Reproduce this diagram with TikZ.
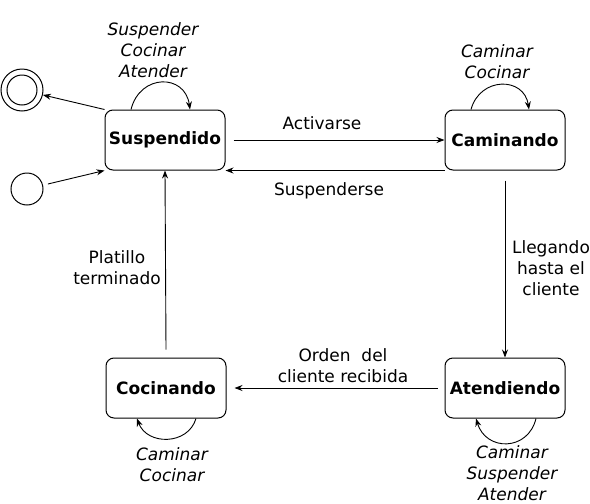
\documentclass[tikz,border=0pt]{standalone}
\usepackage{fontspec}
\setmainfont{DejaVu Sans}
\usepackage{tikz}
\usetikzlibrary{positioning, arrows.meta}

\begin{document}
\begin{tikzpicture}[x=1pt, y=1pt, >={Stealth[length=8pt, width=6pt]},
    state/.style={draw, rounded corners=8pt, minimum height=60pt, minimum width=120pt, align=center, font=\fontsize{17}{21}\selectfont\bfseries, line width=1pt},
    arrow/.style={->, line width=0.9pt},
    trans/.style={align=center, font=\fontsize{17}{21}\selectfont},
    cmd/.style={align=center, font=\fontsize{17}{21}\selectfont\itshape}]
    \useasboundingbox (0,0) rectangle (590,-504);
    \node[state] (susp) at (165,-140) {Suspendido};
    \node[state, right=219pt of susp] (cam) {Caminando};
    \node[state, below=187pt of cam] (aten) {Atendiendo};
    \node[state, left=218pt of aten] (coc) {Cocinando};
    \node[draw, circle, minimum size=42pt, inner sep=0pt, line width=1pt] (fin) at (22,-90) {};
    \node[draw, circle, minimum size=30pt, inner sep=0pt, line width=1pt] (finin) at (fin) {};
    \node[draw, circle, minimum size=32pt, inner sep=0pt, line width=1pt] (ini) at (27,-189) {};
    % transiciones
    \draw[arrow] ([xshift=8pt]susp.east) -- (cam.west);
    \draw[arrow] (cam.south west) -- (susp.south east);
    \draw[arrow] ([yshift=-10pt]cam.south) -- (aten.north);
    \draw[arrow] ([xshift=-7pt]aten.west) -- ([xshift=8pt]coc.east);
    \draw[arrow] ([yshift=8pt]coc.north) -- (susp.south);
    \draw[arrow] (susp.north west) -- (fin);
    \draw[arrow, shorten <=5pt] (ini) -- (susp.south west);
    % bucles
    \draw[arrow] ([xshift=-34pt]susp.north) .. controls +(9,36) and +(-5,36) .. ([xshift=25pt]susp.north);
    \draw[arrow] ([xshift=-34pt]cam.north) .. controls +(9,33) and +(-5,33) .. ([xshift=24pt]cam.north);
    \draw[arrow] ([xshift=31pt]aten.south) .. controls +(-8,-33) and +(10,-33) .. ([xshift=-29pt]aten.south);
    \draw[arrow] ([xshift=30pt]coc.south) .. controls +(-8,-27) and +(10,-27) .. ([xshift=-29pt]coc.south);
    % etiquetas
    \node[trans] (lact) at (322,-123) {Activarse};
    \node[trans] (lsus) at (329,-191) {Suspenderse};
    \node[trans] (llle) at (551,-268) {Llegando\\hasta el\\cliente};
    \node[trans] (lord) at (343,-366) {Orden~~del\\cliente recibida};
    \node[trans] (lpla) at (117,-268) {Platillo\\terminado};
    \node[cmd] (csusp) at (153,-50) {Suspender\\Cocinar\\Atender};
    \node[cmd] (ccam) at (497,-62) {Caminar\\Cocinar};
    \node[cmd] (caten) at (512,-473) {Caminar\\Suspender\\Atender};
    \node[cmd] (ccoc) at (172,-465) {Caminar\\Cocinar};
\end{tikzpicture}
\end{document}
